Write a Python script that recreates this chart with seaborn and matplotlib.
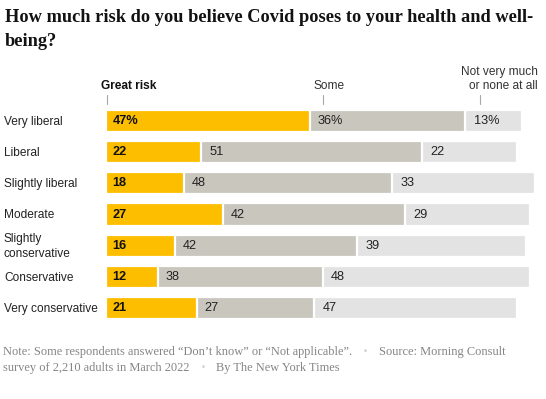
import matplotlib
matplotlib.use("Agg")
import matplotlib.pyplot as plt
import seaborn as sns
import pandas as pd
import numpy as np

groups = ["Very liberal", "Liberal", "Slightly liberal", "Moderate",
          "Slightly\nconservative", "Conservative", "Very conservative"]
great = [47, 22, 18, 27, 16, 12, 21]
some = [36, 51, 48, 42, 42, 38, 27]
notmuch = [13, 22, 33, 29, 39, 48, 47]
header_great = "Great risk"
header_some = "Some"
header_not = "Not very much\nor none at all"
title1 = "How much risk do you believe Covid poses to your health and well-"
title2 = "being?"
note1 = "Note: Some respondents answered \u201cDon\u2019t know\u201d or \u201cNot applicable\u201d."
note2 = "Source: Morning Consult"
note3 = "survey of 2,210 adults in March 2022"
note4 = "By The New York Times"

YELLOW = "#FDBE00"
GRAY = "#C9C6BE"
LIGHT = "#E3E3E3"

sns.set_theme(style="white")
plt.rcParams["font.family"] = ["Liberation Sans", "DejaVu Sans"]

W, H = 546, 399
fig = plt.figure(figsize=(W / 100, H / 100), dpi=100)
ppu = 4.33
x0 = 106
ax_top, ax_bot = 100, 330
ax = fig.add_axes([x0 / W, 1 - ax_bot / H, (W - x0) / W, (ax_bot - ax_top) / H])

df = pd.DataFrame({"group": groups, "great": great, "some": some, "notmuch": notmuch})
df["c2"] = df["great"] + df["some"]
df["c3"] = df["c2"] + df["notmuch"]

bw = 0.71
for col, color in [("c3", LIGHT), ("c2", GRAY), ("great", YELLOW)]:
    sns.barplot(data=df, y="group", x=col, color=color, orient="h", width=bw,
                edgecolor="white", linewidth=1.6, saturation=1, ax=ax)

ax.set_xlim(0, (W - x0) / ppu)
step = 31.17
ax.set_ylim(6 + (ax_bot - 308) / step, -(121 - ax_top) / step)
ax.set_xlabel("")
ax.set_ylabel("")
ax.set_xticks([])
ax.set_yticks([])
for s in ax.spines.values():
    s.set_visible(False)

pad = 6.5 / ppu
lab_fs = 9.2
row_fs = 8.6
for i in range(len(groups)):
    g, s_, n = great[i], some[i], notmuch[i]
    suf = "%" if i == 0 else ""
    ax.text(pad, i, f"{g}{suf}", va="center", ha="left", fontsize=lab_fs,
            fontweight="bold", color="#111111")
    ax.text(g + pad + 0.3, i, f"{s_}{suf}", va="center", ha="left", fontsize=lab_fs,
            color="#222222")
    ax.text(g + s_ + pad + 0.5, i, f"{n}{suf}", va="center", ha="left", fontsize=lab_fs,
            color="#222222")
    ax.text(-(x0 - 4) / ppu, i + 0.03, groups[i], va="center", ha="left", fontsize=row_fs,
            color="#222222", linespacing=1.3, clip_on=False)

def py(p):
    return (p - 121) / step

hy = py(86)
ax.text(-1.2, hy, header_great, ha="left", va="center", fontsize=row_fs,
        fontweight="bold", color="#111111", clip_on=False)
ax.text(great[0] + 4.6, hy, header_some, ha="center", va="center", fontsize=row_fs,
        color="#333333", clip_on=False)
ax.text((538 - x0) / ppu, py(79), header_not, ha="right", va="center", fontsize=row_fs,
        color="#333333", linespacing=1.2, clip_on=False)
for xv in [0.2, great[0] + 3.2, great[0] + some[0] + 3.4]:
    ax.plot([xv, xv], [py(95), py(104)], color="#a8a8a8", lw=0.8, clip_on=False)

fig.canvas.draw()
r = fig.canvas.get_renderer()

def fit_size(txt, kw, target, base=12):
    t = fig.text(0, 0, txt, fontsize=base, **kw)
    w = t.get_window_extent(renderer=r).width
    t.remove()
    return base * target / w

title_kw = dict(fontweight="bold", family=["Liberation Serif"], color="#121212")
tfs = fit_size(title1, title_kw, 524)
fig.text(5 / W, 1 - 17 / H, title1, ha="left", va="center", fontsize=tfs, **title_kw)
fig.text(5 / W, 1 - 41 / H, title2, ha="left", va="center", fontsize=tfs, **title_kw)

note_base = dict(family=["Liberation Serif"], color="#858585")
nfs = fit_size(note1 + "  " + note2, note_base, 477)
note_kw = dict(fontsize=nfs, va="center", ha="left", **note_base)
bul_kw = dict(fontsize=6, family=["DejaVu Sans"], color="#cccccc", va="center", ha="left")

def seq(y, parts, xstart=3):
    x = xstart
    for txt, kw, gap in parts:
        t = fig.text(x / W, 1 - y / H, txt, **kw)
        bb = t.get_window_extent(renderer=r)
        x = x + bb.width + gap

seq(352, [(note1, note_kw, 11), ("\u2022", bul_kw, 11), (note2, note_kw, 0)])
seq(368, [(note3, note_kw, 11), ("\u2022", bul_kw, 11), (note4, note_kw, 0)])

fig.savefig("out.png", dpi=100, facecolor="white")
